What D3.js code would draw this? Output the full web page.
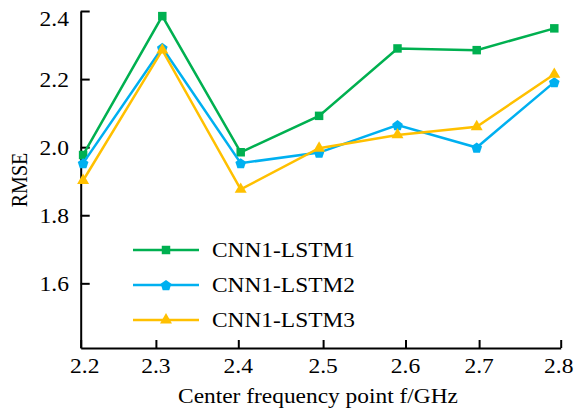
<!DOCTYPE html>
<html>
<head>
<meta charset="utf-8">
<script src="https://cdn.jsdelivr.net/npm/d3@7"></script>
<style>
  html, body { margin: 0; padding: 0; background: #fff; }
  #chart { width: 576px; height: 411px; }
  #chart text { font-family: "Liberation Serif", "Times New Roman", "DejaVu Serif", serif; }
</style>
</head>
<body>
<div id="chart"></div>
<script>
// center frequency of each measured point (GHz)
const freqs = [2.203, 2.302, 2.400, 2.498, 2.596, 2.695, 2.792];

const lstm1 = [1.977, 2.385, 1.985, 2.092, 2.290, 2.285, 2.349];
const lstm2 = [1.953, 2.292, 1.953, 1.984, 2.065, 1.999, 2.191];
const lstm3 = [1.902, 2.285, 1.876, 1.997, 2.036, 2.060, 2.214];

const seriesNames = ["CNN1-LSTM1", "CNN1-LSTM2", "CNN1-LSTM3"];
const seriesColors = ["#00b050", "#00b0f0", "#ffc000"];
const seriesShapes = ["square", "pentagon", "triangle"];

// tick marks as drawn in the figure (not quite evenly spaced)
const xTicks = [2.2, 2.294, 2.397, 2.503, 2.606, 2.698, 2.8];
const yTicks = [1.6, 1.8, 2.0, 2.2, 2.4];

const width = 576, height = 411;
const stretch = 1.17;      // text in the figure is a bit wide
const tickStretch = 1.07;

const svg = d3.select("#chart")
    .append("svg")
    .attr("width", width)
    .attr("height", height);

const x = d3.scaleLinear().domain([2.2, 2.8]).range([80.7, 560.7]);
const y = d3.scaleLinear().domain([1.41, 2.4]).range([348, 11]);

function pentagon(r) {
    const pts = d3.range(5).map(i => {
        const a = -Math.PI / 2 + i * 2 * Math.PI / 5;
        return [r * Math.cos(a), r * Math.sin(a) + 0.6];
    });
    return "M" + pts.map(p => p.join(",")).join("L") + "Z";
}

function markerPath(shape) {
    if (shape === "square") return d3.symbol(d3.symbolSquare, 72)();
    if (shape === "triangle") return d3.symbol(d3.symbolTriangle, 62)();
    return pentagon(5.6);
}

// axes
const yAxis = d3.axisLeft(y).tickValues(yTicks).tickSizeInner(-9).tickSizeOuter(0).tickFormat("");
const xAxis = d3.axisBottom(x).tickValues(xTicks).tickSizeInner(-8).tickSizeOuter(0).tickFormat("");

svg.append("g")
    .attr("transform", "translate(80.7,0)")
    .call(yAxis)
    .call(g => g.selectAll("path, line").attr("stroke", "#000").attr("stroke-width", 2));

svg.append("g")
    .attr("transform", "translate(0,348)")
    .call(xAxis)
    .call(g => g.selectAll("path, line").attr("stroke", "#000").attr("stroke-width", 2));

// tick labels
svg.append("g")
    .selectAll("text")
    .data(yTicks)
    .join("text")
    .attr("transform", d => `translate(69,${Math.max(y(d), 18) + 7.5}) scale(${tickStretch},1)`)
    .attr("text-anchor", "end")
    .attr("font-size", 22)
    .text(d => d3.format(".1f")(d));

svg.append("g")
    .selectAll("text")
    .data(xTicks)
    .join("text")
    .attr("transform", (d, i) => {
        let px = x(d);
        if (i === 0) px += 4;
        if (i === xTicks.length - 1) px -= 2;
        return `translate(${px},373) scale(${tickStretch},1)`;
    })
    .attr("text-anchor", "middle")
    .attr("font-size", 22)
    .text(d => d3.format(".1f")(d));

// axis titles
svg.append("text")
    .attr("transform", `translate(318,403) scale(${stretch},1)`)
    .attr("text-anchor", "middle")
    .attr("font-size", 20)
    .text("Center frequency point f/GHz");

svg.append("text")
    .attr("transform", `translate(27,180) scale(${stretch},1) rotate(-90)`)
    .attr("text-anchor", "middle")
    .attr("font-size", 20)
    .text("RMSE");

// series
const series = [lstm1, lstm2, lstm3].map((vals, i) => ({
    name: seriesNames[i],
    color: seriesColors[i],
    shape: seriesShapes[i],
    points: vals.map((v, j) => ({ f: freqs[j], v }))
}));

const line = d3.line().x(d => x(d.f)).y(d => y(d.v));

const groups = svg.append("g")
    .selectAll("g")
    .data(series)
    .join("g");

groups.append("path")
    .attr("d", d => line(d.points))
    .attr("fill", "none")
    .attr("stroke", d => d.color)
    .attr("stroke-width", 2.5);

groups.each(function (s) {
    d3.select(this).selectAll("path.mark")
        .data(s.points)
        .join("path")
        .attr("class", "mark")
        .attr("transform", d => `translate(${x(d.f)},${y(d.v)})`)
        .attr("d", markerPath(s.shape))
        .attr("fill", s.color);
});

// legend
const legend = svg.append("g")
    .selectAll("g")
    .data(series)
    .join("g")
    .attr("transform", (d, i) => `translate(0,${250 + i * 35})`);

legend.append("line")
    .attr("x1", 133).attr("x2", 199)
    .attr("stroke", d => d.color)
    .attr("stroke-width", 2.5);

legend.append("path")
    .attr("transform", "translate(166,0)")
    .attr("d", d => markerPath(d.shape))
    .attr("fill", d => d.color);

legend.append("text")
    .attr("transform", `translate(212,7) scale(${stretch},1)`)
    .attr("font-size", 20)
    .text(d => d.name);
</script>
</body>
</html>
